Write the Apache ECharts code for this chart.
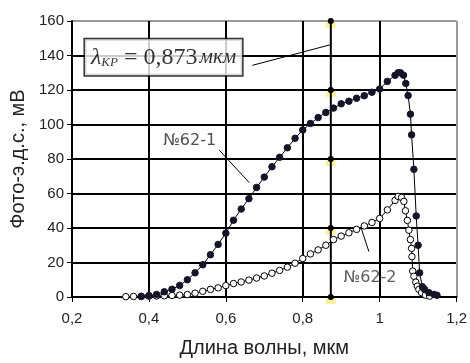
<!DOCTYPE html>
<html><head><meta charset="utf-8">
<script src="https://cdn.jsdelivr.net/npm/echarts@6/dist/echarts.min.js"></script>
<style>html,body{margin:0;padding:0;background:#fff}#c{width:470px;height:363px}</style>
</head><body><div id="c"></div>
<script>
// Series №62-1 (filled dots)
var x1 = [0.38,0.40,0.42,0.44,0.46,0.48,0.50,0.52,0.54,0.56,0.58,0.60,0.62,0.64,0.66,0.68,0.70,0.72,0.74,0.76,0.78,0.80,0.82,0.84,0.86,0.88,0.90,0.92,0.94,0.96,0.98,1.00,1.02,
          1.04,1.048,1.054,1.062,1.068,1.074,1.08,1.083,1.089,1.095,1.10,1.104,1.111,1.117,1.128,1.141,1.149];
var y1 = [0.3,0.8,1.5,3,4.5,6.7,10,14,18.7,24.5,30.5,37,44.5,51,57,63.5,69.5,75.5,81,86.5,92,96.8,100.6,104,107,109.5,112,113.5,115.2,116.7,118.7,120.6,125,
          128.5,130,130,128.6,123.8,116.8,106,94,74,47,30,14,6,4.4,2.5,1.5,1];
// Series №62-2 (open circles)
var x2 = [0.34,0.36,0.38,0.40,0.42,0.44,0.46,0.48,0.50,0.52,0.54,0.56,0.58,0.60,0.62,0.64,0.66,0.68,0.70,0.72,0.74,0.76,0.78,0.80,0.82,0.84,0.86,0.88,0.90,0.92,0.94,0.96,0.98,1.00,1.02,
          1.04,1.048,1.057,1.063,1.067,1.072,1.076,1.08,1.083,1.084,1.086,1.089,1.094,1.098,1.102,1.109,1.119,1.13];
var y2 = [0.2,0.3,0.4,0.5,0.6,0.7,0.9,1.1,1.4,2.2,3.3,4.4,5.3,6.6,7.8,8.7,9.8,11,12.2,13.8,15.4,17.3,19.6,22.3,25,27.3,30,33.3,35.3,37.2,39.2,41.2,43.2,45.5,50.5,
          56,58.3,57.7,55.4,50,44.4,38.7,33.3,28.2,23.4,15,12,8.6,6.3,4.4,2.5,1.1,0.5];
// Cut-off wavelength marker
var lambdaKP = 0.873;
var markerY = [0,40,80,120,160];
// Axis ticks
var xTicks = [0.2,0.4,0.6,0.8,1.0,1.2];
var yTicks = [0,20,40,60,80,100,120,140,160];
// Annotations (data coordinates)
var label1 = {text:'№62-1', at:[0.506,90.3], lead:[[0.583,85.1],[0.661,66.3]]};
var label2 = {text:'№62-2', at:[0.975,10.9], lead:[[0.951,40.6],[0.972,26.3]]};
var boxAt = [0.438,139];
var boxLead = [[0.669,134.3],[0.873,146.3]];

function pairs(xs, ys){ return xs.map(function(x,i){return [x, ys[i]];}); }

var chart = echarts.init(document.getElementById('c'));
var fmt = function(v){ return String(+v.toFixed(1)).replace('.', ','); };
var leadStyle = {color:'#000', width:1};
chart.setOption({
  animation:false,
  backgroundColor:'#fff',
  textStyle:{fontFamily:'Liberation Sans, Arial, sans-serif'},
  grid:{left:72, right:12, top:21, bottom:62, show:true, borderColor:'#999', borderWidth:1},
  xAxis:{type:'value', min:xTicks[0], max:xTicks[xTicks.length-1], interval:0.2,
    name:'Длина волны, мкм', nameLocation:'middle', nameGap:41,
    nameTextStyle:{fontSize:20, color:'#222'},
    axisLine:{lineStyle:{color:'#000', width:2}},
    axisTick:{show:true, length:5, lineStyle:{color:'#000'}},
    axisLabel:{fontSize:15, color:'#222', margin:14, formatter:fmt},
    splitLine:{show:true, lineStyle:{color:['#000','#000','#000','#000','#000','#999'], width:2}}},
  yAxis:{type:'value', min:yTicks[0], max:yTicks[yTicks.length-1], interval:20,
    name:'Фото-э.д.с., мВ', nameLocation:'middle', nameGap:44,
    nameTextStyle:{fontSize:20, color:'#222'},
    axisLine:{show:true, lineStyle:{color:'#000', width:2}},
    axisTick:{show:true, length:5, lineStyle:{color:'#000'}},
    axisLabel:{fontSize:15, color:'#222', margin:8},
    splitLine:{show:true, lineStyle:{color:['#000','#000','#000','#000','#000','#000','#000','#000','#999'], width:2}}},
  series:[
    {type:'line', data:pairs(x1,y1), symbol:'circle', symbolSize:6.5, showAllSymbol:true,
      lineStyle:{color:'#000', width:1}, itemStyle:{color:'#15152a', borderColor:'#15152a'}, z:5},
    {type:'line', data:pairs(x2,y2), symbol:'circle', symbolSize:6.5, showAllSymbol:true,
      lineStyle:{color:'#000', width:1}, itemStyle:{color:'#fff', borderColor:'#000', borderWidth:1}, z:4},
    {type:'scatter', data:markerY.map(function(y){return [lambdaKP,y];}), symbol:'rect', symbolSize:[10,6], symbolOffset:[0,4],
      itemStyle:{color:'rgba(245,235,90,0.75)'}, z:2, silent:true},
    {type:'line', data:markerY.map(function(y){return [lambdaKP,y];}), symbol:'circle', symbolSize:6,
      lineStyle:{color:'#000', width:2}, itemStyle:{color:'#000'}, z:3},
    {type:'line', data:label1.lead, symbol:'none', lineStyle:leadStyle, z:6},
    {type:'line', data:label2.lead, symbol:'none', lineStyle:leadStyle, z:6},
    {type:'line', data:boxLead, symbol:'none', lineStyle:leadStyle, z:6},
    {type:'scatter', symbolSize:0, z:7, data:[
      {value:label1.at, label:{show:true, position:'inside', formatter:label1.text, fontSize:16, color:'#222', fontFamily:'DejaVu Sans'}},
      {value:label2.at, label:{show:true, position:'inside', formatter:label2.text, fontSize:16, color:'#333', fontFamily:'DejaVu Sans'}},
      {value:boxAt, label:{show:true, position:'inside',
        formatter:'{l|λ}{s|KP}{n| = 0,873}{i|мкм}',
        backgroundColor:'#fff', borderColor:'#000', borderWidth:1.5, padding:[6,6,6,6],
        rich:{
          l:{fontFamily:'Liberation Serif', fontStyle:'italic', fontSize:24, color:'#000', verticalAlign:'middle'},
          s:{fontFamily:'Liberation Serif', fontStyle:'italic', fontSize:13, color:'#000', verticalAlign:'bottom', padding:[9,0,0,0]},
          n:{fontFamily:'Liberation Serif', fontSize:24, color:'#000', verticalAlign:'middle'},
          i:{fontFamily:'Liberation Serif', fontStyle:'italic', fontSize:21, color:'#000', verticalAlign:'middle', padding:[0,0,0,2]}
        }}}
    ]}
  ]
});
</script></body></html>
